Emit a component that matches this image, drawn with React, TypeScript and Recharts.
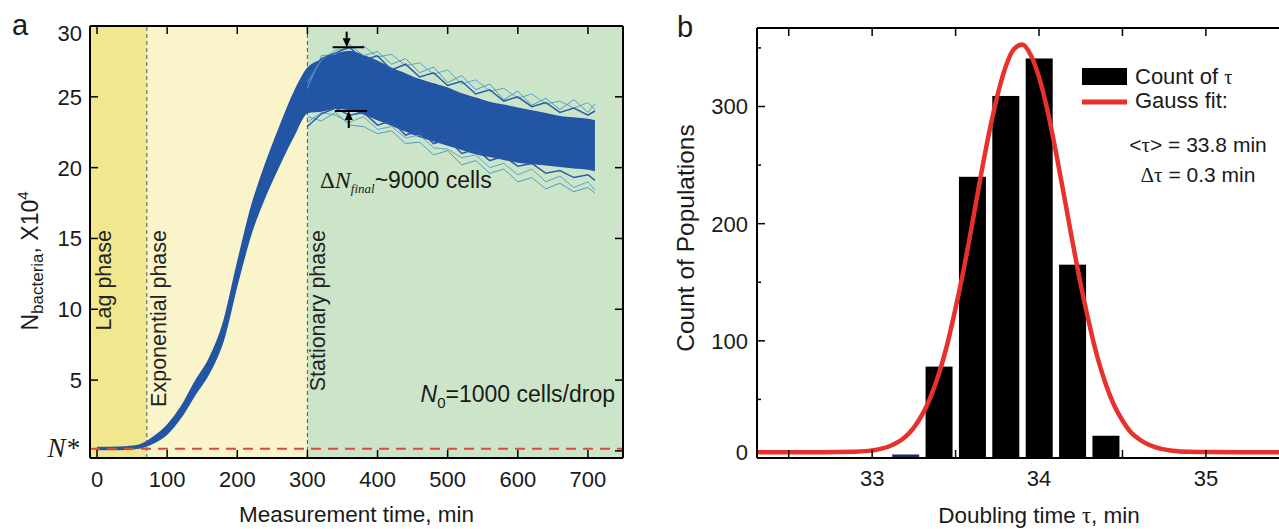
import React from 'react';
import {
  ComposedChart,
  Area,
  Line,
  Bar,
  XAxis,
  YAxis,
  ReferenceArea,
  ReferenceLine,
  ReferenceDot,
  Legend,
} from 'recharts';

const SANS = '"Liberation Sans", Arial, Helvetica, sans-serif';
const SERIF = '"Liberation Serif", "Times New Roman", serif';
const INK = '#1a1a1a';

// ---------- panel a: growth curves (N in units of 10^4) ----------
const timeMin = [0, 20, 40, 60, 80, 100, 120, 140, 160, 180, 200, 220, 240, 260, 280, 300, 320, 340, 360, 380, 400, 420, 440, 460, 480, 500, 520, 540, 560, 580, 600, 620, 640, 660, 680, 700, 710];
const bandLow = [0.1, 0.1, 0.12, 0.2, 0.55, 1.2, 2.4, 4.0, 5.5, 7.8, 11.8, 15.4, 18.0, 20.2, 22.2, 23.9, 24.0, 24.2, 24.1, 23.8, 23.4, 23.0, 22.6, 22.2, 21.9, 21.6, 21.3, 21.0, 20.8, 20.6, 20.4, 20.3, 20.2, 20.1, 20.0, 19.9, 19.8];
const bandHigh = [0.25, 0.25, 0.28, 0.4, 0.95, 1.8, 3.1, 4.9, 6.5, 9.0, 13.2, 17.2, 20.2, 22.8, 25.2, 27.0, 27.6, 28.0, 28.2, 27.9, 27.5, 27.0, 26.6, 26.2, 25.9, 25.6, 25.2, 24.9, 24.6, 24.4, 24.2, 24.0, 23.8, 23.6, 23.5, 23.4, 23.3];

// single traces, stationary phase only (t = 300 ... 700, 710)
const traceStart = 300;
const upperLight1 = [26.0, 27.6, 28.3, 28.4, 28.6, 27.8, 28.0, 27.2, 27.4, 26.6, 26.9, 25.9, 26.2, 25.4, 25.6, 24.9, 25.2, 24.5, 24.7, 24.2, 24.6, 24.1];
const upperLight2 = [25.6, 27.9, 28.0, 28.7, 27.9, 28.2, 27.3, 27.7, 26.7, 27.1, 26.0, 26.5, 25.5, 25.9, 24.8, 25.4, 24.4, 24.9, 24.1, 24.8, 23.9, 24.5];
const lowerLight1 = [23.2, 23.9, 23.7, 23.2, 23.6, 22.7, 22.9, 22.1, 22.3, 21.4, 21.3, 20.7, 20.9, 20.0, 20.3, 19.5, 19.9, 19.0, 19.4, 18.6, 19.0, 18.4];
const lowerLight2 = [23.6, 23.3, 23.9, 23.0, 22.9, 22.4, 22.6, 21.7, 21.8, 20.9, 21.2, 20.2, 20.5, 19.6, 19.9, 19.0, 19.3, 18.5, 18.9, 18.3, 18.6, 18.2];
const upperDark = [26.4, 27.7, 28.1, 28.5, 27.6, 27.9, 26.9, 27.3, 26.4, 26.7, 25.8, 26.1, 25.2, 25.5, 24.7, 25.0, 24.3, 24.6, 23.9, 24.2, 23.7, 24.0];
const lowerDark = [22.9, 23.8, 24.2, 23.7, 23.9, 23.0, 23.3, 22.3, 22.6, 21.7, 22.0, 21.0, 21.3, 20.5, 20.8, 20.1, 20.3, 19.6, 19.8, 19.3, 19.5, 19.1];

const timeTicks = [0, 100, 200, 300, 400, 500, 600, 700];
const nStar = 0.15;
const nTicks = [nStar, 5, 10, 15, 20, 25, 30];
const nRightTicks = [0, 5, 10, 15, 20, 25];
const lagEnd = 71;
const expEnd = 300;

// ---------- panel b: doubling time histogram ----------
const tauBins = [33.2, 33.4, 33.6, 33.8, 34.0, 34.2, 34.4];
const binCounts = [3, 78, 240, 309, 341, 165, 19];
const fitTau = [32.3, 32.5, 32.7, 32.9, 33.0, 33.1, 33.2, 33.25, 33.3, 33.35, 33.4, 33.45, 33.5, 33.55, 33.6, 33.65, 33.7, 33.75, 33.8, 33.85, 33.9, 33.95, 34.0, 34.05, 34.1, 34.15, 34.2, 34.25, 34.3, 34.35, 34.4, 34.45, 34.5, 34.55, 34.6, 34.7, 34.8, 34.9, 35.0, 35.2, 35.45];
const fitCount = [5, 5, 5, 5.4, 6.5, 9.8, 18.3, 26, 37, 52, 72, 97, 128, 162, 200, 240, 277, 309, 334, 349, 353, 344, 325, 297, 262, 224, 185, 148, 115, 86, 63, 45, 32, 22, 16, 9, 6.2, 5.3, 5.1, 5, 5];
const tauTicks = [32.5, 33, 33.5, 34, 34.5, 35];
const popTicks = [0, 50, 100, 150, 200, 250, 300, 350];

const growthData = timeMin.map((t, i) => {
  const j = i - timeMin.indexOf(traceStart);
  const row: any = { t, band: [bandLow[i], bandHigh[i]] };
  if (j >= 0) {
    row.u1 = upperLight1[j];
    row.u2 = upperLight2[j];
    row.l1 = lowerLight1[j];
    row.l2 = lowerLight2[j];
    row.ud = upperDark[j];
    row.ld = lowerDark[j];
  }
  return row;
});

const tauData = fitTau.map((tau, i) => {
  const k = tauBins.findIndex((b) => Math.abs(b - tau) < 1e-6);
  return { tau, fit: fitCount[i], count: k >= 0 ? binCounts[k] : undefined };
});

const axisStyle = { stroke: '#000', strokeWidth: 2 };
const tickText = { fontSize: 22, fontFamily: SANS, fill: INK };

// inward tick marks drawn by hand, labels optional
const bottomTick = (margin: number, lenOf: (v: number) => number, labelOf: (v: number) => string | null) =>
  (p: any) => {
    const v = p.payload.value;
    const base = p.y - margin;
    const label = labelOf(v);
    return (
      <g>
        <line x1={p.x} x2={p.x} y1={base} y2={base - lenOf(v)} stroke="#000" strokeWidth={1.5} />
        {label && (
          <text x={p.x} y={p.y} dy="0.71em" textAnchor="middle" {...tickText}>{label}</text>
        )}
      </g>
    );
  };

const topTick = (lenOf: (v: number) => number) => (p: any) => (
  <line x1={p.x} x2={p.x} y1={p.y} y2={p.y + lenOf(p.payload.value)} stroke="#000" strokeWidth={1.5} />
);

const rightTick = (lenOf: (v: number) => number) => (p: any) => (
  <line x1={p.x} x2={p.x - lenOf(p.payload.value)} y1={p.y} y2={p.y} stroke="#000" strokeWidth={1.5} />
);

const leftTickA = (p: any) => {
  const v = p.payload.value;
  const ax = p.x + 8;
  if (v === nStar) {
    return (
      <text x={p.x - 3} y={p.y - 2} dy="0.36em" textAnchor="end" fontSize={27} fontFamily={SERIF} fontStyle="italic" fill={INK}>
        N*
      </text>
    );
  }
  return (
    <g>
      <line x1={ax} x2={ax + 8} y1={p.y} y2={p.y} stroke="#000" strokeWidth={1.5} />
      <text x={p.x} y={p.y + (v === 30 ? 7 : 0)} dy="0.36em" textAnchor="end" {...tickText}>{v}</text>
    </g>
  );
};

const leftTickB = (p: any) => {
  const v = p.payload.value;
  const ax = p.x + 9;
  const major = v % 100 === 0;
  return (
    <g>
      <line x1={ax} x2={ax + (major ? 8 : 4)} y1={p.y} y2={p.y} stroke="#000" strokeWidth={1.5} />
      {major && (
        <text x={p.x} y={p.y - (v === 0 ? 6 : 0)} dy="0.36em" textAnchor="end" {...tickText}>{v}</text>
      )}
    </g>
  );
};

const xTitleA = (p: any) => {
  const vb = p.viewBox;
  return (
    <text x={vb.x + vb.width / 2} y={vb.y + 64} textAnchor="middle" fontSize={22.5} fontFamily={SANS} fill={INK}>
      Measurement time, min
    </text>
  );
};

const yTitleA = (p: any) => {
  const vb = p.viewBox;
  const x = vb.x + 8;
  const y = vb.y + vb.height / 2 + 19;
  return (
    <text transform={`rotate(-90 ${x} ${y})`} x={x} y={y} textAnchor="middle" fontFamily={SANS} fill={INK}>
      <tspan fontSize={23}>N</tspan>
      <tspan fontSize={17} dy={5}>bacteria</tspan>
      <tspan fontSize={23} dy={-5}>, X10</tspan>
      <tspan fontSize={15} dy={-10}>4</tspan>
    </text>
  );
};

const xTitleB = (p: any) => {
  const vb = p.viewBox;
  return (
    <text x={vb.x + vb.width / 2 + 20} y={vb.y + 65} textAnchor="middle" fontSize={22.5} fontFamily={SANS} fill={INK}>
      Doubling time <tspan fontFamily={SERIF}>τ</tspan>, min
    </text>
  );
};

const yTitleB = (p: any) => {
  const vb = p.viewBox;
  const x = vb.x - 3;
  const y = vb.y + vb.height / 2 - 5;
  return (
    <text transform={`rotate(-90 ${x} ${y})`} x={x} y={y} textAnchor="middle" fontSize={24.5} fontFamily={SANS} fill={INK}>
      Count of Populations
    </text>
  );
};

const phaseLabel = (text: string, dx: number) => (p: any) => {
  const vb = p.viewBox;
  const x = vb.x + dx;
  const y = vb.y + 204;
  return (
    <text transform={`rotate(-90 ${x} ${y})`} x={x} y={y} textAnchor="end" fontSize={21.5} fontFamily={SANS} fill="#222">
      {text}
    </text>
  );
};

const arrowDown = (p: any) => (
  <path d={`M${p.cx - 4},${p.cy - 9} L${p.cx + 4},${p.cy - 9} L${p.cx},${p.cy} Z`} fill="#000" />
);
const arrowUp = (p: any) => (
  <path d={`M${p.cx - 4},${p.cy + 9} L${p.cx + 4},${p.cy + 9} L${p.cx},${p.cy} Z`} fill="#000" />
);

const binShape = (p: any) => {
  if (p.payload == null || p.payload.count == null) return <g />;
  const cx = p.x + p.width / 2;
  const fill = p.payload.tau < 33.3 ? '#1c2a5c' : '#000';
  return <rect x={cx - 13.5} y={p.y} width={27} height={p.height} fill={fill} />;
};

const legendB = () => (
  <svg width={200} height={130} style={{ overflow: 'visible' }}>
    <rect x={0} y={8} width={45} height={17} fill="#000" />
    <text x={53} y={24} fontSize={22} fontFamily={SANS} fill={INK}>
      Count of <tspan fontFamily={SERIF} fontSize={20}>τ</tspan>
    </text>
    <line x1={0} x2={45} y1={42} y2={42} stroke="#e8312b" strokeWidth={5} />
    <text x={53} y={48} fontSize={22} fontFamily={SANS} fill={INK}>Gauss fit:</text>
    <text x={116} y={92} textAnchor="middle" fontSize={21} fontFamily={SANS} fill={INK}>
      &lt;<tspan fontFamily={SERIF}>τ</tspan>&gt; = 33.8 min
    </text>
    <text x={116} y={122} textAnchor="middle" fontSize={21} fontFamily={SANS} fill={INK}>
      <tspan fontFamily={SERIF}>Δτ</tspan> = 0.3 min
    </text>
  </svg>
);

const ids = { xAxisId: 'b', yAxisId: 'l' };

export default function App() {
  return (
    <div style={{ position: 'fixed', left: 0, top: 0, width: 1279, height: 529, overflow: 'hidden', background: '#fff' }}>
      <div style={{ position: 'absolute', left: 0, top: 0 }}>
        <ComposedChart width={640} height={529} data={growthData} margin={{ top: 25, right: 16, bottom: 21, left: 30 }}>
          <XAxis xAxisId="b" dataKey="t" type="number" domain={[-10, 750]} allowDataOverflow ticks={timeTicks} interval={0}
            tickSize={0} tickMargin={13} tickLine={false} axisLine={axisStyle} height={50}
            tick={bottomTick(13, () => 8, (v) => String(v))} label={xTitleA} />
          <XAxis xAxisId="top" orientation="top" dataKey="t" type="number" domain={[-10, 750]} allowDataOverflow ticks={timeTicks}
            interval={0} tickSize={0} tickMargin={0} tickLine={false} axisLine={axisStyle} height={1} tick={topTick(() => 8)} />
          <YAxis yAxisId="l" type="number" domain={[-0.5, 30]} allowDataOverflow ticks={nTicks} interval={0}
            tickSize={0} tickMargin={8} tickLine={false} axisLine={axisStyle} width={60} tick={leftTickA} label={yTitleA} />
          <YAxis yAxisId="r" orientation="right" type="number" domain={[-0.5, 30]} allowDataOverflow ticks={nRightTicks}
            interval={0} tickSize={0} tickMargin={0} tickLine={false} axisLine={axisStyle} width={1} tick={rightTick(() => 8)} />

          <ReferenceArea {...ids} x1={-10} x2={lagEnd} fill="#f0e78f" fillOpacity={1} stroke="none" label={phaseLabel('Lag phase', 21)} />
          <ReferenceArea {...ids} x1={lagEnd} x2={expEnd} fill="#f9f4ca" fillOpacity={1} stroke="none" label={phaseLabel('Exponential phase', 19)} />
          <ReferenceArea {...ids} x1={expEnd} x2={750} fill="#cce5c8" fillOpacity={1} stroke="none" label={phaseLabel('Stationary phase', 18)} />
          <ReferenceLine {...ids} x={lagEnd} stroke="#555" strokeDasharray="4 3" strokeWidth={1} />
          <ReferenceLine {...ids} x={expEnd} stroke="#555" strokeDasharray="4 3" strokeWidth={1} />

          <Line {...ids} dataKey="u1" type="linear" stroke="#5aa5cc" strokeWidth={1} dot={false} isAnimationActive={false} />
          <Line {...ids} dataKey="u2" type="linear" stroke="#4f9bc6" strokeWidth={1} dot={false} isAnimationActive={false} />
          <Line {...ids} dataKey="l1" type="linear" stroke="#5aa5cc" strokeWidth={1} dot={false} isAnimationActive={false} />
          <Line {...ids} dataKey="l2" type="linear" stroke="#4f9bc6" strokeWidth={1} dot={false} isAnimationActive={false} />
          <Area {...ids} dataKey="band" type="monotone" fill="#2355a5" fillOpacity={1} stroke="#2355a5" strokeWidth={1.5} isAnimationActive={false} />
          <Line {...ids} dataKey="ud" type="linear" stroke="#2a5ba8" strokeWidth={1.5} dot={false} isAnimationActive={false} />
          <Line {...ids} dataKey="ld" type="linear" stroke="#2a5ba8" strokeWidth={1.5} dot={false} isAnimationActive={false} />

          <ReferenceLine {...ids} y={nStar} stroke="#e04a3c" strokeDasharray="10 7" strokeWidth={2} />

          <ReferenceLine {...ids} segment={[{ x: 336, y: 28.5 }, { x: 381, y: 28.5 }]} stroke="#000" strokeWidth={2} />
          <ReferenceLine {...ids} segment={[{ x: 356, y: 29.6 }, { x: 356, y: 29.0 }]} stroke="#000" strokeWidth={2} />
          <ReferenceDot {...ids} x={356} y={28.5} r={0} shape={arrowDown} />
          <ReferenceLine {...ids} segment={[{ x: 339, y: 24.0 }, { x: 385, y: 24.0 }]} stroke="#000" strokeWidth={2} />
          <ReferenceLine {...ids} segment={[{ x: 359, y: 22.8 }, { x: 359, y: 23.5 }]} stroke="#000" strokeWidth={2} />
          <ReferenceDot {...ids} x={359} y={24.0} r={0} shape={arrowUp} />
        </ComposedChart>
      </div>

      <div style={{ position: 'absolute', left: 640, top: 0 }}>
        <ComposedChart width={660} height={529} data={tauData} margin={{ top: 27, right: 19, bottom: 21, left: 57 }}>
          <XAxis xAxisId="b" dataKey="tau" type="number" domain={[32.31, 35.45]} allowDataOverflow ticks={tauTicks} interval={0}
            tickSize={0} tickMargin={12} tickLine={false} axisLine={axisStyle} height={50}
            tick={bottomTick(12, () => 8, (v) => (Number.isInteger(v) ? String(v) : null))} label={xTitleB} />
          <XAxis xAxisId="top" orientation="top" dataKey="tau" type="number" domain={[32.31, 35.45]} allowDataOverflow ticks={tauTicks}
            interval={0} tickSize={0} tickMargin={0} tickLine={false} axisLine={axisStyle} height={1} tick={topTick(() => 8)} />
          <YAxis yAxisId="l" type="number" domain={[0, 367]} allowDataOverflow ticks={popTicks} interval={0}
            tickSize={0} tickMargin={9} tickLine={false} axisLine={axisStyle} width={60} tick={leftTickB} label={yTitleB} />

          <Bar {...ids} dataKey="count" shape={binShape} isAnimationActive={false} />
          <Line {...ids} dataKey="fit" type="monotone" stroke="#e8312b" strokeWidth={4.5} dot={false} isAnimationActive={false} />
          <Legend layout="vertical" align="center" verticalAlign="middle" content={legendB}
            wrapperStyle={{ left: 442, top: 60, width: 200, height: 130 }} />
        </ComposedChart>
      </div>

      <svg width={1279} height={529} style={{ position: 'absolute', left: 0, top: 0, pointerEvents: 'none' }}>
        <text x={12} y={35} fontSize={29} fontFamily={SANS} fill={INK}>a</text>
        <text x={677} y={37} fontSize={29} fontFamily={SANS} fill={INK}>b</text>
        <text x={320} y={188} fill={INK}>
          <tspan fontFamily={SERIF} fontSize={23}>Δ</tspan>
          <tspan fontFamily={SERIF} fontStyle="italic" fontSize={24}>N</tspan>
          <tspan fontFamily={SERIF} fontStyle="italic" fontSize={13} dy={5}>final</tspan>
          <tspan fontFamily={SANS} fontSize={23} dy={-5}>~9000 cells</tspan>
        </text>
        <text x={615} y={402} textAnchor="end" fontFamily={SANS} fill={INK}>
          <tspan fontStyle="italic" fontSize={23}>N</tspan>
          <tspan fontSize={15} dy={6}>0</tspan>
          <tspan fontSize={23} dy={-6}>=1000 cells/drop</tspan>
        </text>
      </svg>
    </div>
  );
}
